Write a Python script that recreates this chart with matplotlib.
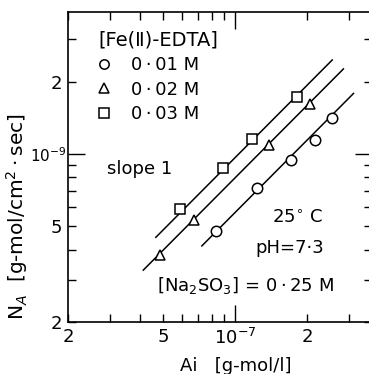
"""
Log-log plot of absorption rate N_A against interfacial concentration Ai
for three Fe(II)-EDTA concentrations, with slope-1 lines.
"""

import numpy as np
import matplotlib
matplotlib.use("Agg")
import matplotlib.pyplot as plt
from matplotlib.ticker import FixedLocator, FuncFormatter

# ---------------------------------------------------------------------
# Data
# ---------------------------------------------------------------------

labels = ["0\u2009·\u200901 M", "0\u2009·\u200902 M", "0\u2009·\u200903 M"]
markers = ["o", "^", "s"]

ai_001 = [8.3e-8, 1.24e-7, 1.72e-7, 2.16e-7, 2.54e-7]
na_001 = [4.78e-10, 7.2e-10, 9.47e-10, 1.14e-9, 1.41e-9]

ai_002 = [4.86e-8, 6.76e-8, 1.39e-7, 2.05e-7]
na_002 = [3.8e-10, 5.31e-10, 1.09e-9, 1.62e-9]

ai_003 = [5.9e-8, 8.88e-8, 1.18e-7, 1.81e-7]
na_003 = [5.88e-10, 8.72e-10, 1.16e-9, 1.73e-9]

# slope-1 lines: N_A = k * Ai over the drawn Ai range
line_k = [5.71e-3, 7.96e-3, 9.66e-3]
line_x = [(7.26e-8, 3.13e-7), (4.13e-8, 2.84e-7), (4.66e-8, 2.55e-7)]

series = [(ai_001, na_001), (ai_002, na_002), (ai_003, na_003)]

# ---------------------------------------------------------------------
# Figure
# ---------------------------------------------------------------------

W, H = 369, 374
fig = plt.figure(figsize=(W / 100, H / 100), dpi=100)
# axes box in pixels: left 68, right 372 (just off the image), top 12, bottom 322
ax = fig.add_axes([68 / W, (H - 322) / H, (372 - 68) / W, (322 - 12) / H])


def afrac(px, py):
    """pixel position in the picture -> axes fraction"""
    return (px - 68) / 304, (322 - py) / 310


ax.set_xscale("log")
ax.set_yscale("log")
ax.set_xlim(2e-8, 3.74e-7)
ax.set_ylim(2e-10, 3.9e-9)

for (x, y), m, lab in zip(series, markers, labels):
    ax.plot(x, y, linestyle="none", marker=m, markersize=7.5,
            markerfacecolor="white", markeredgecolor="black",
            markeredgewidth=1.1, label=lab, zorder=3)

for k, (x0, x1) in zip(line_k, line_x):
    xs = np.array([x0, x1])
    ax.plot(xs, k * xs, color="black", linewidth=1.1, zorder=2)

# ticks: decades long, 2..9 short, label only 2 and 5
ax.xaxis.set_major_locator(FixedLocator([1e-7]))
ax.xaxis.set_minor_locator(FixedLocator([m * 1e-8 for m in range(2, 10)] + [2e-7, 3e-7]))
ax.yaxis.set_major_locator(FixedLocator([1e-9]))
ax.yaxis.set_minor_locator(FixedLocator([m * 1e-10 for m in range(2, 10)] + [2e-9, 3e-9]))

ax.xaxis.set_major_formatter(FuncFormatter(lambda v, p: r"$10^{-7}$"))
ax.yaxis.set_major_formatter(FuncFormatter(lambda v, p: r"$10^{-9}$"))


def minor_fmt(v, p):
    mant = v / 10 ** np.floor(np.log10(v) + 1e-9)
    m = int(round(mant))
    return str(m) if m in (2, 5) else ""


ax.xaxis.set_minor_formatter(FuncFormatter(minor_fmt))
ax.yaxis.set_minor_formatter(FuncFormatter(minor_fmt))

ax.tick_params(which="both", direction="in", top=True, right=True,
               labelsize=13, width=1.0)
ax.tick_params(which="major", length=12, pad=4)
ax.tick_params(which="minor", length=6, pad=4)
ax.tick_params(axis="y", which="major", pad=1, labelsize=11)

for sp in ax.spines.values():
    sp.set_linewidth(1.2)

ax.set_xlabel("Ai   [g-mol/l]", fontsize=13)
ax.xaxis.set_label_coords((236 - 68) / 304, -(357 - 322) / 310)
ax.set_ylabel("N$_A$  [g-mol/cm$^2$\u2009·\u2009sec]", fontsize=14.5)
ax.yaxis.set_label_coords(-(68 - 30) / 304, (322 - 217) / 310)

ax.legend(title="[Fe(Ⅱ)-EDTA]", loc="upper left", frameon=False,
          fontsize=13, title_fontsize=14, alignment="left",
          handlelength=0.6, handletextpad=1.2, labelspacing=0.36,
          borderaxespad=0.0, borderpad=0.2, markerscale=0.9,
          bbox_to_anchor=afrac(95, 27))

ax.text(*afrac(107, 169), "slope 1", transform=ax.transAxes,
        fontsize=13, va="center", ha="left")
ax.text(*afrac(297, 218), "25$^{\\circ}$ C", transform=ax.transAxes,
        fontsize=13, va="center", ha="center")
ax.text(*afrac(290, 248), "pH=7·3", transform=ax.transAxes,
        fontsize=13, va="center", ha="center")
ax.text(*afrac(157, 285), "[Na$_2$SO$_3$] = 0\u2009·\u200925 M",
        transform=ax.transAxes, fontsize=13, va="center", ha="left")

fig.savefig("out.png", dpi=100)
